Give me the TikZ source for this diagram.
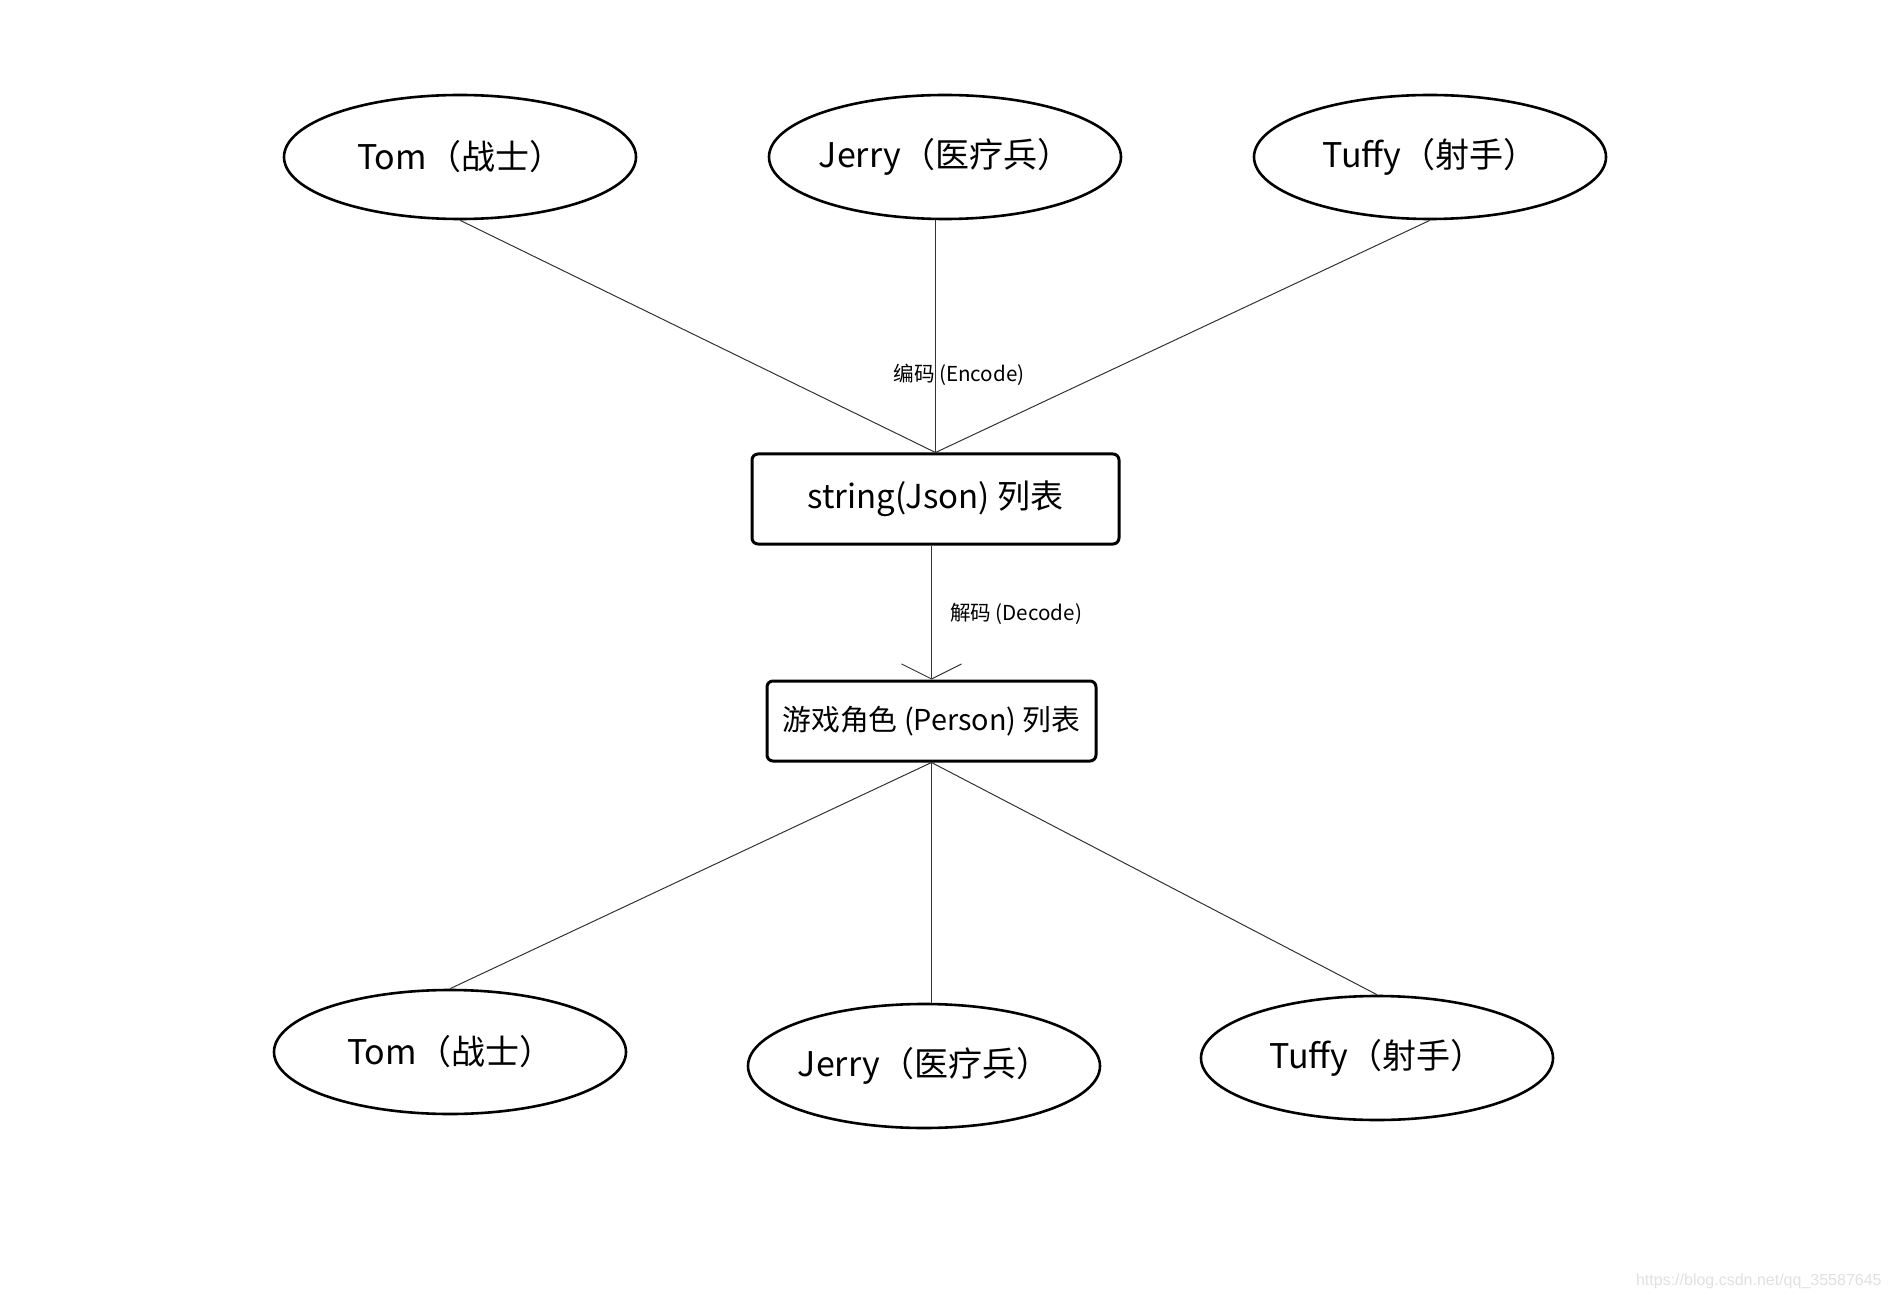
\documentclass[tikz,border=0pt]{standalone}
\usepackage{fontspec}
\setmainfont{Noto Sans CJK SC}
\newfontfamily\markfont{Liberation Sans}
\usepackage{tikz}
\usetikzlibrary{arrows.meta, positioning, shapes.geometric}

\begin{document}
\begin{tikzpicture}[
  x=0.5pt, y=-0.5pt,
  role/.style={ellipse, draw, line width=1.3pt, minimum width=176pt, minimum height=62pt, font=\fontsize{17}{19}\selectfont, inner xsep=-4pt, inner ysep=0pt},
  listbox/.style={rectangle, draw, line width=1.5pt, rounded corners=3pt, align=center, inner sep=0pt},
  link/.style={draw=black!80, line width=0.5pt},
  elabel/.style={font=\fontsize{10.3}{12}\selectfont, inner sep=1pt}
]
\useasboundingbox (0,0) rectangle (1890,1299);

% Roles before encoding
\node[role] (tom_a) at (460,157) {Tom（战士）};
\node[role] (jerry_a) at (945,157) {Jerry（医疗兵）};
\node[role] (tuffy_a) at (1430,157) {Tuffy（射手）};

% Lists
\node[listbox, minimum width=183.5pt, minimum height=45pt, font=\fontsize{16.5}{18}\selectfont] (json) at (935.5,499) {string(Json) 列表};
\node[listbox, minimum width=164.5pt, minimum height=40pt, font=\fontsize{14.4}{16}\selectfont] (person) at (931.5,721) {游戏角色 (Person) 列表};

% Roles after decoding
\node[role] (tom_b) at (450,1052) {Tom（战士）};
\node[role] (jerry_b) at (924,1066) {Jerry（医疗兵）};
\node[role] (tuffy_b) at (1377,1058) {Tuffy（射手）};

% Encode
\draw[link] (tom_a.south) -- (json.north);
\draw[link] (json.north |- jerry_a.south) -- (json.north);
\draw[link] (tuffy_a.south) -- (json.north);
\node[elabel] (enc) at (959,375) {编码 (Encode)};

% Decode
\draw[link, -{Straight Barb[length=7.5pt, width=30pt]}] (json.south -| person.north) -- (person.north);
\node[elabel] (dec) at (1016,614) {解码 (Decode)};

\draw[link] (person.south) -- (tom_b.north);
\draw[link] (person.south) -- (person.south |- jerry_b.north);
\draw[link] (person.south) -- (tuffy_b.north);

\node[anchor=east, font=\markfont\fontsize{8}{9}\selectfont, text=black!12, inner sep=0pt] (mark) at (1882,1281) {https://blog.csdn.net/qq\_35587645};
\end{tikzpicture}
\end{document}
